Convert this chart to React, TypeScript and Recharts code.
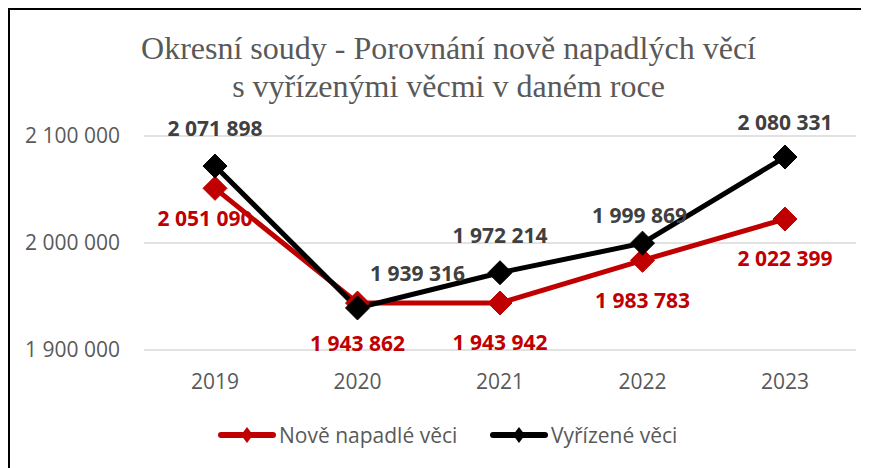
import React from "react";
import { LineChart, Line, XAxis, YAxis, CartesianGrid, LabelList } from "recharts";

const years = ["2019", "2020", "2021", "2022", "2023"];
const noveNapadle = [2051090, 1943862, 1943942, 1983783, 2022399];
const vyrizene = [2071898, 1939316, 1972214, 1999869, 2080331];
const yTicks = [1900000, 2000000, 2100000];
const seriesNames = ["Nově napadlé věci", "Vyřízené věci"];
const titleLines = ["Okresní soudy - Porovnání nově napadlých věcí", "s vyřízenými věcmi v daném roce"];

const data = years.map((y, i) => ({ year: y, nove: noveNapadle[i], vyr: vyrizene[i] }));

const RED = "#C00000";
const BLACK = "#000000";
const FONT = "'Open Sans', sans-serif";

// label placement offsets (style, not data)
const redOffsets = [[-10, 30], [0, 40], [0, 39], [0, 40], [0, 39]];
const blackOffsets = [[0, -38], [60, -35], [0, -38], [-3, -28], [0, -35]];

const fmt = (v: number) => String(Math.round(v)).replace(/\B(?=(\d{3})+(?!\d))/g, " ");

const Diamond = (color: string, r: number) => (props: any) => {
  const { cx, cy, index } = props;
  if (cx == null || cy == null) return <g key={index} />;
  return (
    <polygon
      key={index}
      points={`${cx},${cy - r} ${cx + r},${cy} ${cx},${cy + r} ${cx - r},${cy}`}
      fill={color}
      stroke={color}
    />
  );
};

const makeLabel = (color: string, offsets: number[][]) => (props: any) => {
  const { x, y, value, index } = props;
  const [dx, dy] = offsets[index] || [0, 0];
  return (
    <text
      key={index}
      x={x + dx}
      y={y + dy}
      textAnchor="middle"
      dominantBaseline="central"
      fill={color}
      fontFamily={FONT}
      fontWeight="bold"
      fontSize={21}
    >
      {fmt(value)}
    </text>
  );
};

const LegendIcon = ({ color }: { color: string }) => (
  <svg width={58} height={18} style={{ display: "block" }}>
    <line x1={3} y1={9} x2={55} y2={9} stroke={color} strokeWidth={6} strokeLinecap="round" />
    <polygon points="29,1 35,9 29,17 23,9" fill={color} />
  </svg>
);

export default function App() {
  return (
    <div
      style={{
        position: "relative",
        width: 859,
        height: 458,
        borderTop: "2px solid #000",
        borderLeft: "2px solid #000",
        background: "#fff",
      }}
    >
      <div
        style={{
          position: "absolute",
          left: 0,
          width: 877,
          top: 19,
          textAlign: "center",
          fontFamily: "'Liberation Serif', serif",
          fontSize: 32,
          lineHeight: "38px",
          color: "#595959",
        }}
      >
        {titleLines.map((t) => (
          <div key={t}>{t}</div>
        ))}
      </div>
      <LineChart
        width={859}
        height={458}
        data={data}
        margin={{ top: 126, right: 13, bottom: 78, left: 0 }}
      >
        <CartesianGrid vertical={false} stroke="#d9d9d9" strokeWidth={1.5} />
        <XAxis
          dataKey="year"
          axisLine={false}
          tickLine={false}
          tickSize={0}
          tickMargin={24}
          height={40}
          padding={{ left: 71, right: 71 }}
          tick={{ fill: "#595959", fontSize: 21, fontFamily: FONT }}
        />
        <YAxis
          domain={[1900000, 2100000]}
          ticks={yTicks}
          axisLine={false}
          tickLine={false}
          tickSize={0}
          tickMargin={24}
          width={134}
          tickFormatter={fmt}
          tick={{ fill: "#595959", fontSize: 21, fontFamily: FONT }}
        />
        <Line
          dataKey="nove"
          name={seriesNames[0]}
          stroke={RED}
          strokeWidth={5}
          dot={Diamond(RED, 12)}
          activeDot={false}
          isAnimationActive={false}
        >
          <LabelList dataKey="nove" content={makeLabel(RED, redOffsets)} />
        </Line>
        <Line
          dataKey="vyr"
          name={seriesNames[1]}
          stroke={BLACK}
          strokeWidth={5}
          dot={Diamond(BLACK, 12)}
          activeDot={false}
          isAnimationActive={false}
        >
          <LabelList dataKey="vyr" content={makeLabel("#404040", blackOffsets)} />
        </Line>
      </LineChart>
      <div
        style={{
          position: "absolute",
          top: 411,
          left: 0,
          fontFamily: FONT,
          fontSize: 21,
          color: "#595959",
          whiteSpace: "nowrap",
        }}
      >
        <div style={{ position: "absolute", left: 208, display: "flex", alignItems: "center" }}>
          <LegendIcon color={RED} />
          <span style={{ marginLeft: 3 }}>{seriesNames[0]}</span>
        </div>
        <div style={{ position: "absolute", left: 480, display: "flex", alignItems: "center" }}>
          <LegendIcon color={BLACK} />
          <span style={{ marginLeft: 3 }}>{seriesNames[1]}</span>
        </div>
      </div>
    </div>
  );
}
